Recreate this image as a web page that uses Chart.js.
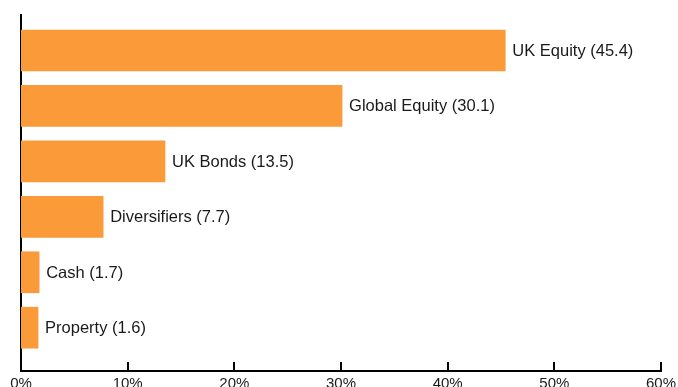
<!DOCTYPE html>
<html>
<head>
<meta charset="utf-8">
<script src="https://cdn.jsdelivr.net/npm/chart.js@4/dist/chart.umd.min.js"></script>
<style>
  html, body { margin: 0; padding: 0; background: #fff; overflow: hidden; }
  #wrap { width: 678px; height: 399px; }
</style>
</head>
<body>
<div id="wrap"><canvas id="myChart"></canvas></div>
<script>
  // portfolio split
  let categories = ["UK Equity", "Global Equity", "UK Bonds", "Diversifiers", "Cash", "Property"];
  let weights = [45.4, 30.1, 13.5, 7.7, 1.7, 1.6];
  let xTicks = [0, 10, 20, 30, 40, 50, 60];

  let barColor = "#FA9A38";

  // labels at the end of each bar
  let barLabels = {
    id: "barLabels",
    afterDatasetsDraw(chart) {
      let ctx = chart.ctx;
      let meta = chart.getDatasetMeta(0);
      ctx.save();
      ctx.font = "16.5px 'Liberation Sans', Arial, sans-serif";
      ctx.fillStyle = "#1a1a1a";
      ctx.textBaseline = "middle";
      ctx.textAlign = "left";
      meta.data.forEach(function (bar, i) {
        ctx.fillText(categories[i] + " (" + weights[i] + ")", bar.x + 7, bar.y + 1);
      });
      ctx.restore();
    },
  };

  // small tick marks pointing up into the plot
  let innerTicks = {
    id: "innerTicks",
    afterDraw(chart) {
      let ctx = chart.ctx;
      let xs = chart.scales.x;
      let bottom = chart.chartArea.bottom;
      ctx.save();
      ctx.strokeStyle = "#000";
      ctx.lineWidth = 2;
      xs.ticks.forEach(function (t) {
        if (t.value === 0) return;
        let px = Math.round(xs.getPixelForValue(t.value));
        ctx.beginPath();
        ctx.moveTo(px, bottom - 9);
        ctx.lineTo(px, bottom);
        ctx.stroke();
      });
      ctx.restore();
    },
  };

  let points = weights.map(function (w, i) {
    return { x: w, y: i };
  });

  let mychart = document.getElementById("myChart").getContext("2d");
  let chart = new Chart(mychart, {
    type: "bar",
    data: {
      labels: categories,
      datasets: [
        {
          data: points,
          backgroundColor: barColor,
          borderWidth: 0,
          barThickness: 41,
        },
      ],
    },
    options: {
      indexAxis: "y",
      responsive: true,
      maintainAspectRatio: false,
      animation: false,
      layout: {
        padding: { left: 21, right: 17, top: 15, bottom: 2 },
      },
      plugins: {
        legend: { display: false },
        tooltip: { enabled: false },
      },
      scales: {
        x: {
          type: "linear",
          min: 0,
          max: 60,
          afterBuildTicks: function (scale) {
            scale.ticks = xTicks.map(function (v) { return { value: v }; });
          },
          afterFit: function (scale) {
            scale.paddingLeft = 0;
            scale.paddingRight = 0;
          },
          grid: { display: false, drawTicks: false },
          border: { display: true, color: "#000", width: 2 },
          ticks: {
            padding: 4,
            color: "#1a1a1a",
            font: { family: "'Liberation Sans', Arial, sans-serif", size: 15 },
            callback: function (v) { return v + "%"; },
          },
        },
        y: {
          type: "linear",
          reverse: true,
          offset: false,
          min: -0.64,
          max: 5.781,
          grid: { display: false, drawTicks: false, offset: false },
          border: { display: true, color: "#000", width: 2 },
          ticks: { display: false },
        },
      },
    },
    plugins: [barLabels, innerTicks],
  });
</script>
</body>
</html>
